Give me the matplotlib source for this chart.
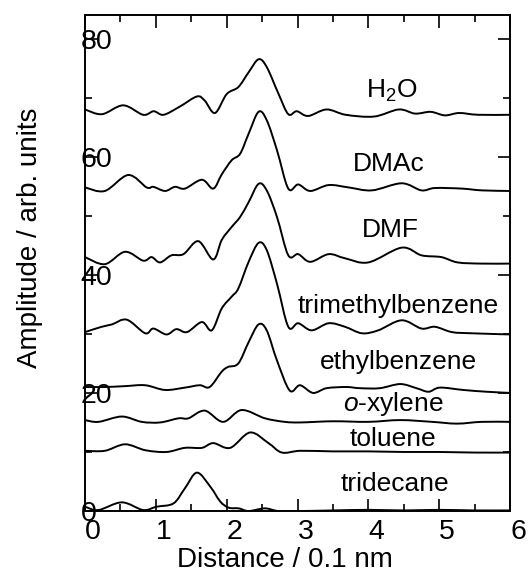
import matplotlib
matplotlib.use('Agg')
import matplotlib.pyplot as plt
from matplotlib.path import Path
from matplotlib.patches import PathPatch
from matplotlib.ticker import MultipleLocator

plt.rcParams['font.family'] = ['Liberation Sans', 'DejaVu Sans']
plt.rcParams['mathtext.fontset'] = 'custom'
plt.rcParams['mathtext.rm'] = 'Liberation Sans'
plt.rcParams['mathtext.it'] = 'Liberation Sans:italic'

# curves (distance in 0.1 nm, amplitude offset per sample)
h2o_x = [0, 0.24, 0.54, 0.82, 0.97, 1.11, 1.34, 1.58, 1.69, 1.835, 2.0, 2.165, 2.31, 2.45,
         2.565, 2.73, 2.87, 2.99, 3.15, 3.41, 3.68, 4.08, 4.43, 4.66, 4.88, 5.08, 5.28, 5.55, 6.0]
h2o_y = [68.0, 67.2, 68.7, 67.1, 67.7, 67.1, 68.5, 70.2, 69.5, 67.4, 70.6, 71.8, 74.3, 76.5,
         75.2, 70.7, 67.2, 67.7, 66.9, 68.0, 67.1, 66.8, 68.0, 67.3, 67.6, 67.0, 67.4, 67.1, 67.1]

dmac_x = [0, 0.28, 0.61, 0.87, 0.965, 1.13, 1.27, 1.41, 1.65, 1.81, 1.93, 2.07, 2.19, 2.31, 2.45,
          2.565, 2.71, 2.87, 3.01, 3.18, 3.44, 3.72, 4.05, 4.47, 4.75, 4.94, 5.32, 5.6, 6.0]
dmac_y = [54.8, 54.2, 56.9, 54.8, 54.9, 54.2, 54.9, 54.6, 56.1, 54.6, 57.0, 59.4, 60.5, 63.9, 67.6,
          66.2, 61.1, 54.6, 55.3, 54.2, 55.2, 54.8, 54.3, 55.5, 54.3, 54.7, 54.6, 54.3, 54.2]

dmf_x = [0, 0.28, 0.565, 0.82, 0.94, 1.06, 1.22, 1.39, 1.60, 1.81, 1.93, 2.07, 2.19, 2.31, 2.45,
         2.565, 2.71, 2.87, 3.01, 3.18, 3.44, 3.67, 4.0, 4.47, 4.75, 5.03, 5.26, 5.6, 6.0]
dmf_y = [43.0, 41.8, 43.9, 42.4, 43.0, 42.1, 43.3, 43.5, 45.7, 42.6, 45.9, 48.1, 49.8, 52.3, 55.4,
         54.3, 49.8, 43.3, 43.5, 42.2, 43.5, 42.8, 42.1, 44.6, 43.3, 43.0, 42.1, 41.9, 41.9]

tmb_x = [0, 0.235, 0.38, 0.59, 0.85, 0.965, 1.15, 1.29, 1.44, 1.65, 1.79, 1.93, 2.07, 2.165, 2.31,
         2.45, 2.565, 2.71, 2.87, 3.01, 3.2, 3.44, 3.67, 3.91, 4.14, 4.47, 4.75, 4.94, 5.18, 5.46, 6.0]
tmb_y = [30.3, 31.2, 31.6, 32.4, 30.1, 30.9, 29.9, 30.8, 30.3, 32.0, 30.6, 34.3, 36.3, 37.7, 42.2,
         45.4, 44.2, 38.5, 31.2, 31.8, 30.6, 31.8, 31.2, 30.1, 30.6, 32.3, 30.9, 31.2, 30.3, 30.1, 29.9]

eb_x = [0, 0.28, 0.565, 0.85, 1.13, 1.41, 1.62, 1.76, 1.93, 2.02, 2.165, 2.31, 2.45, 2.565,
        2.71, 2.89, 3.035, 3.22, 3.41, 3.69, 3.88, 4.16, 4.45, 4.68, 4.85, 5.01, 5.34, 5.67, 6.0]
eb_y = [21.0, 21.0, 21.15, 21.3, 20.5, 20.9, 21.3, 21.0, 23.6, 24.4, 25.0, 28.6, 31.6, 30.6,
        25.5, 20.4, 21.3, 20.0, 20.8, 21.0, 20.8, 20.8, 21.5, 20.8, 20.2, 20.9, 20.5, 20.2, 20.0]

oxy_x = [0, 0.19, 0.52, 0.80, 1.06, 1.32, 1.46, 1.69, 1.95, 2.21, 2.54, 2.82, 3.04, 3.5, 4.0, 4.45,
         4.9, 5.25, 5.6, 6.0]
oxy_y = [15.4, 15.1, 16.0, 15.1, 15.0, 15.7, 15.7, 17.0, 15.1, 17.1, 15.7, 15.1, 15.0, 15.2, 15.1, 15.4,
         15.1, 14.8, 15.1, 15.1]

tol_x = [0, 0.28, 0.565, 0.85, 1.15, 1.41, 1.65, 1.81, 2.05, 2.33, 2.59, 2.78, 3.04, 3.5, 4.0, 4.5,
         5.0, 5.5, 6.0]
tol_y = [10.2, 10.2, 11.3, 10.3, 10.0, 10.7, 10.7, 11.5, 10.7, 13.3, 11.5, 9.9, 10.2, 10.1, 10.1, 10.0,
         10.0, 9.9, 9.9]

tri_x = [0, 0.19, 0.52, 0.82, 1.01, 1.25, 1.41, 1.58, 1.77, 1.91, 2.03, 2.17, 2.31, 2.54,
         2.73, 3.04, 3.5, 4.0, 4.5, 5.0, 5.5, 6.0]
tri_y = [0.73, 0.17, 1.47, 0.17, 0.73, 1.3, 3.84, 6.5, 4.1, 1.6, 0.56, 0.45, 0.0, 0.45,
         0.0, 0.0, 0.1, 0.2, 0.1, 0.2, 0.1, 0.1]

names = ['H$_{\\mathregular{2}}$O', 'DMAc', 'DMF', 'trimethylbenzene', 'ethylbenzene',
         '$\\mathit{o}$-xylene', 'toluene', 'tridecane']
label_x = [4.33, 4.29, 4.31, 4.42, 4.42, 4.35, 4.35, 4.38]
label_y = [70.0, 57.5, 46.4, 33.6, 24.0, 17.0, 11.0, 3.4]


def smooth_path(xs, ys):
    # cubic bezier through the read points (catmull-rom style handles)
    pts = list(zip(xs, ys))
    verts = [pts[0]]
    codes = [Path.MOVETO]
    n = len(pts)
    for i in range(n - 1):
        p0 = pts[max(i - 1, 0)]
        p1 = pts[i]
        p2 = pts[i + 1]
        p3 = pts[min(i + 2, n - 1)]
        c1 = (p1[0] + (p2[0] - p0[0]) / 6, p1[1] + (p2[1] - p0[1]) / 6)
        c2 = (p2[0] - (p3[0] - p1[0]) / 6, p2[1] - (p3[1] - p1[1]) / 6)
        verts += [c1, c2, p2]
        codes += [Path.CURVE4] * 3
    return Path(verts, codes)


fig = plt.figure(figsize=(5.29, 5.72), dpi=100)
ax = fig.add_axes([0.1607, 0.1066, 0.8034, 0.8672])

for xs, ys in [(h2o_x, h2o_y), (dmac_x, dmac_y), (dmf_x, dmf_y), (tmb_x, tmb_y),
               (eb_x, eb_y), (oxy_x, oxy_y), (tol_x, tol_y), (tri_x, tri_y)]:
    ax.add_patch(PathPatch(smooth_path(xs, ys), fill=False, edgecolor='black', lw=1.4,
                           capstyle='round', joinstyle='round'))

for name, tx, ty in zip(names, label_x, label_y):
    ax.text(tx, ty, name, ha='center', va='baseline', fontsize=19)

ax.set_xlim(0, 6)
ax.set_ylim(0, 84)
ax.xaxis.set_major_locator(MultipleLocator(1))
ax.xaxis.set_minor_locator(MultipleLocator(0.5))
ax.yaxis.set_major_locator(MultipleLocator(20))
ax.yaxis.set_minor_locator(MultipleLocator(10))
ax.tick_params(which='both', direction='in', top=True, right=True, width=1.2, labelsize=20.5)
ax.tick_params(which='major', length=9)
ax.tick_params(which='minor', length=5)
ax.tick_params(axis='x', pad=6)
ax.tick_params(axis='y', pad=3)
for lab in ax.get_xticklabels():
    lab.set_horizontalalignment('left')
for lab in ax.get_yticklabels():
    lab.set_horizontalalignment('left')
for sp in ax.spines.values():
    sp.set_linewidth(1.4)

ax.set_xlabel('Distance / 0.1 nm', fontsize=20, va='baseline')
ax.set_ylabel('Amplitude / arb. units', fontsize=20)
ax.xaxis.set_label_coords(0.47, -0.113)
ax.yaxis.set_label_coords(-0.10, 0.55)

plt.savefig('out.png', dpi=100)
